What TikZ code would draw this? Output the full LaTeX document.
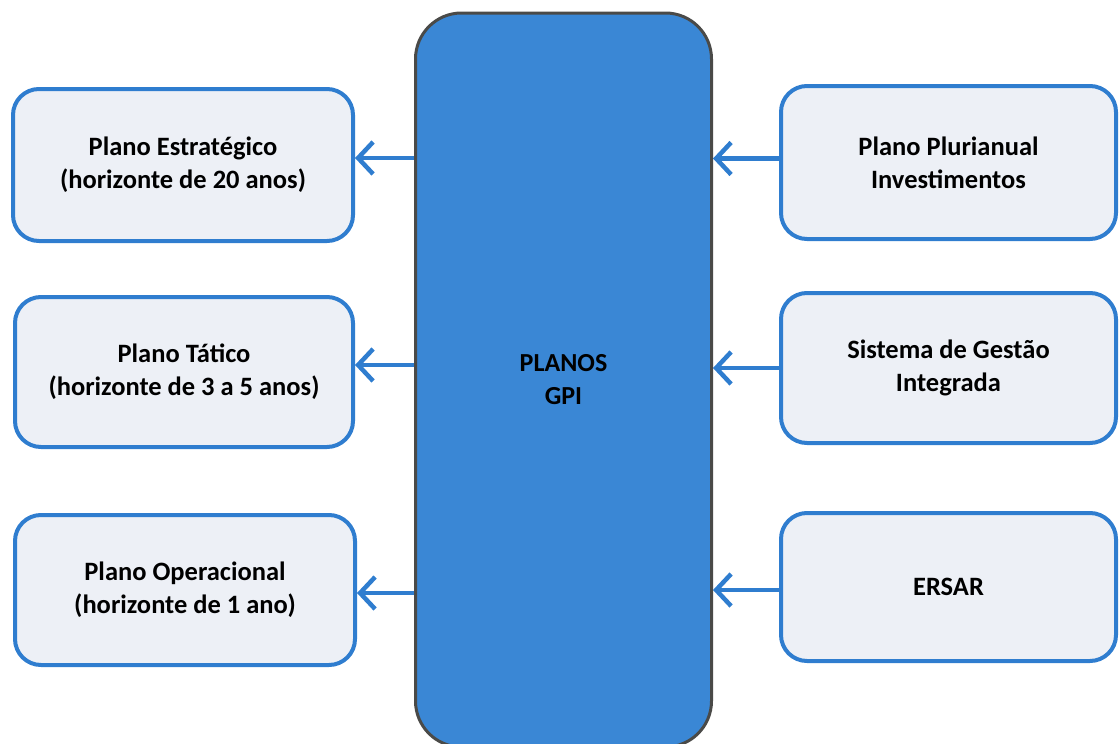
\documentclass[tikz,border=0pt]{standalone}
\usepackage{fontspec}
\setmainfont{Carlito}
\usetikzlibrary{arrows.meta}
\definecolor{azul}{HTML}{2F7DCF}
\definecolor{azulclaro}{HTML}{EDF0F6}
\definecolor{azulgpi}{HTML}{3A87D5}
\definecolor{cinza}{HTML}{4A4A48}
\tikzset{
  plano/.style={draw=azul, line width=4pt, fill=azulclaro, rounded corners=26pt,
    align=center, font=\fontsize{26.5}{33}\selectfont\bfseries, inner sep=0pt},
  seta/.style={draw=azul, line width=4.5pt, -{Straight Barb[length=15pt, width=32pt, line width=4.5pt]}}
}
\begin{document}
\begin{tikzpicture}[x=1pt, y=-1pt]
  \useasboundingbox (0,0) rectangle (1119,744);
  \node[draw=cinza, line width=3pt, fill=azulgpi, rounded corners=46pt, minimum width=296pt, minimum height=734pt,
        align=center, font=\fontsize{26}{33}\selectfont\bfseries, inner sep=0pt] (gpi) at (563.5,380) {PLANOS\\GPI};
  % planos a esquerda
  \node[plano, minimum width=340pt, minimum height=152pt] (pe) at (183,165) {Plano Estratégico\\(horizonte de 20 anos)};
  \node[plano, minimum width=338pt, minimum height=150pt] (pt) at (184,372) {Plano Tático\\(horizonte de 3 a 5 anos)};
  \node[plano, minimum width=340pt, minimum height=150pt] (po) at (185,590) {Plano Operacional\\(horizonte de 1 ano)};
  % entradas a direita
  \node[plano, minimum width=335pt, minimum height=153pt] (ppi) at (948.5,162.5) {Plano Plurianual\\Investimentos};
  \node[plano, minimum width=335pt, minimum height=150pt] (sgi) at (948.5,368) {Sistema de Gestão\\Integrada};
  \node[plano, minimum width=335pt, minimum height=148pt] (ersar) at (948.5,587) {ERSAR};
  \draw[seta] ([yshift=7pt]gpi.west |- pe) -- ([yshift=7pt]pe.east);
  \draw[seta] ([yshift=7pt]gpi.west |- pt) -- ([yshift=7pt]pt.east);
  \draw[seta] ([yshift=-3pt]gpi.west |- po) -- ([yshift=-3pt]po.east);
  \draw[seta] ([yshift=4pt]ppi.west) -- ([yshift=4pt]gpi.east |- ppi);
  \draw[seta] (sgi.west) -- (gpi.east |- sgi);
  \draw[seta] ([yshift=-3pt]ersar.west) -- ([yshift=-3pt]gpi.east |- ersar);
\end{tikzpicture}
\end{document}
